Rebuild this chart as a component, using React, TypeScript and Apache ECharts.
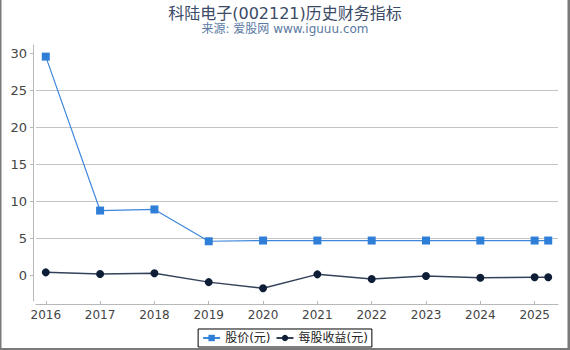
import React, { useEffect, useRef } from "react";
import * as echarts from "echarts";

const years = [2016, 2017, 2018, 2019, 2020, 2021, 2022, 2023, 2024, 2025, 2025.25];
const price = [29.55, 8.75, 8.9, 4.6, 4.7, 4.7, 4.7, 4.7, 4.7, 4.7, 4.7];
const eps = [0.4, 0.18, 0.27, -0.92, -1.75, 0.13, -0.5, -0.1, -0.32, -0.27, -0.27];
const xTicks = [2016, 2017, 2018, 2019, 2020, 2021, 2022, 2023, 2024, 2025];
const yTicks = [0, 5, 10, 15, 20, 25, 30];

const title = "科陆电子(002121)历史财务指标";
const subtitle = "来源: 爱股网 www.iguuu.com";
const seriesNames = ["股价(元)", "每股收益(元)"];

export default function App() {
  const ref = useRef<HTMLDivElement>(null);
  useEffect(() => {
    if (!ref.current) return;
    const chart = echarts.init(ref.current, undefined, { renderer: "svg" });
    const font = "DejaVu Sans, 'Noto Sans CJK SC', sans-serif";
    chart.setOption({
      animation: false,
      backgroundColor: "#fff",
      textStyle: { fontFamily: font },
      title: {
        text: title,
        subtext: subtitle,
        left: "center",
        top: 0,
        itemGap: 2,
        textStyle: { fontSize: 16, fontWeight: "normal", color: "#3b4a66", fontFamily: font },
        subtextStyle: { fontSize: 12, color: "#5b79a3", fontFamily: font },
      },
      legend: {
        bottom: 3,
        left: "center",
        data: seriesNames,
        borderColor: "#000",
        borderWidth: 1,
        borderRadius: 0,
        padding: [3, 4],
        itemGap: 5,
        itemWidth: 17,
        itemHeight: 8,
        textStyle: { fontSize: 12, color: "#222", fontFamily: font },
      },
      grid: { left: 36, right: 12, top: 45, bottom: 49 },
      xAxis: {
        type: "value",
        min: 2015.82,
        max: 2025.43,
        splitNumber: 10,
        offset: 3,
        axisLine: { onZero: false, lineStyle: { color: "#b8b8b8" } },
        axisTick: { inside: true, length: 3, lineStyle: { color: "#b8b8b8" }, customValues: xTicks },
        axisLabel: { fontSize: 12, color: "#444", margin: 5, customValues: xTicks, formatter: (v: number) => String(Math.round(v)) },
        splitLine: { show: false },
      },
      yAxis: {
        type: "value",
        min: -3.47,
        max: 31.12,
        splitNumber: 7,
        offset: 3,
        axisLine: { show: true, onZero: false, lineStyle: { color: "#b8b8b8" } },
        axisTick: { show: true, length: 3, lineStyle: { color: "#b8b8b8" }, customValues: yTicks },
        axisLabel: { fontSize: 13, color: "#444", margin: 6, customValues: yTicks },
        splitLine: { show: true, showMinLine: false, showMaxLine: false, lineStyle: { color: "#c4c4c4" } },
      },
      series: [
        {
          name: seriesNames[0],
          type: "line",
          data: years.map((y, i) => [y, price[i]]),
          symbol: "rect",
          symbolSize: 8,
          itemStyle: { color: "#2f7ed8" },
          lineStyle: { color: "#3d86dc", width: 1.2 },
        },
        {
          name: seriesNames[1],
          type: "line",
          data: years.map((y, i) => [y, eps[i]]),
          symbol: "circle",
          symbolSize: 8,
          itemStyle: { color: "#0e1e36" },
          lineStyle: { color: "#33425a", width: 1.5 },
        },
      ],
      graphic: [
        { type: "rect", left: 0, top: 0, shape: { width: 1.5, height: 350 }, style: { fill: "#7a7a7a" } },
        { type: "rect", left: 567.5, top: 0, shape: { width: 2.5, height: 350 }, style: { fill: "#7a7a7a" } },
        { type: "rect", left: 0, top: 348, shape: { width: 570, height: 2 }, style: { fill: "#7a7a7a" } },
      ],
    });
    return () => chart.dispose();
  }, []);
  return (
    <div
      ref={ref}
      style={{ position: "fixed", left: 0, top: 0, width: 570, height: 350 }}
    />
  );
}
